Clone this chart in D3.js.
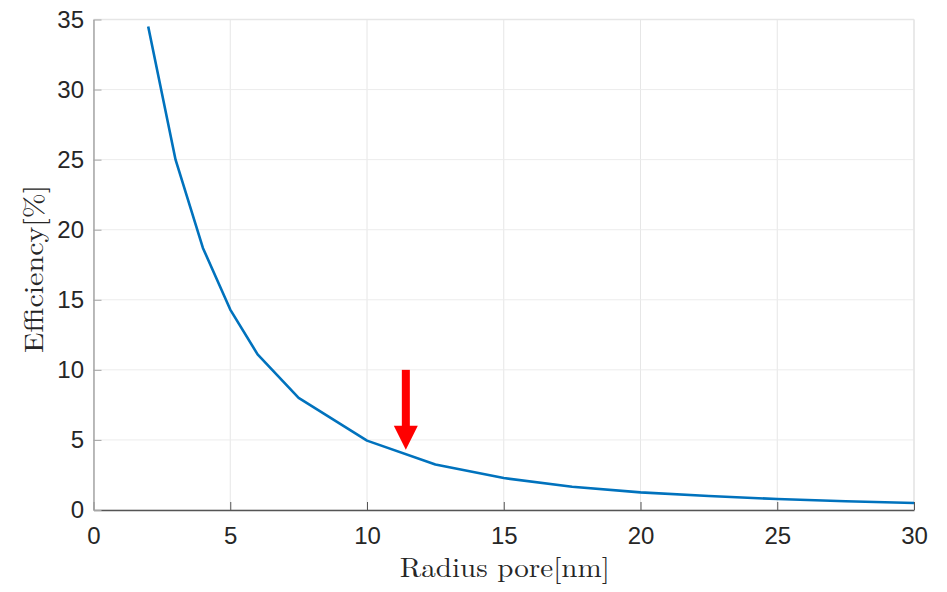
<!DOCTYPE html>
<html>
<head>
<meta charset="utf-8">
<script src="https://cdn.jsdelivr.net/npm/d3@7"></script>
<style>
  html, body { margin: 0; padding: 0; background: #fff; }
  svg { display: block; }
</style>
</head>
<body>
<svg id="chart" width="947" height="592"></svg>
<script>
// Pore radius (nm) and corresponding efficiency (%)
const radius = [2, 3, 4, 5, 6, 7.5, 10, 12.5, 15, 17.5, 20, 22.5, 25, 27.5, 30];
const efficiency = [34.5, 25.0, 18.7, 14.3, 11.1, 8.0, 4.95, 3.25, 2.28, 1.66, 1.26, 1.0, 0.78, 0.62, 0.5];

// Tick values
const xTicks = [0, 5, 10, 15, 20, 25, 30];
const yTicks = [0, 5, 10, 15, 20, 25, 30, 35];

// Marker arrow: x position, tail and tip efficiency
const arrowX = [11.42];
const arrowY = [10, 4.3];

const svg = d3.select("#chart");
const W = 947, H = 592;
const margin = { left: 93.5, top: 19.5, right: 33, bottom: 82 };
const iw = W - margin.left - margin.right;
const ih = H - margin.top - margin.bottom;

const x = d3.scaleLinear().domain([0, 30]).range([margin.left, margin.left + iw]);
const y = d3.scaleLinear().domain([0, 35]).range([margin.top + ih, margin.top]);

svg.append("rect").attr("width", W).attr("height", H).attr("fill", "#fff");

// Grid
const grid = svg.append("g");
grid.selectAll("line.gx").data(xTicks).join("line")
  .attr("x1", d => x(d)).attr("x2", d => x(d))
  .attr("y1", y(0)).attr("y2", y(35))
  .attr("stroke", "#e6e6e6").attr("stroke-width", 1);
grid.selectAll("line.gy").data(yTicks).join("line")
  .attr("x1", x(0)).attr("x2", x(30))
  .attr("y1", d => y(d)).attr("y2", d => y(d))
  .attr("stroke", "#ececec").attr("stroke-width", 1);

// Box: light top and right edges
svg.append("line").attr("x1", x(0)).attr("x2", x(30)).attr("y1", y(35)).attr("y2", y(35))
  .attr("stroke", "#e6e6e6").attr("stroke-width", 1.5);
svg.append("line").attr("x1", x(30)).attr("x2", x(30)).attr("y1", y(0)).attr("y2", y(35))
  .attr("stroke", "#e6e6e6").attr("stroke-width", 1.5);

// Axes with inward ticks
const xAxis = d3.axisBottom(x).tickValues(xTicks).tickSizeInner(-8).tickSizeOuter(0).tickPadding(16.5);
const yAxis = d3.axisLeft(y).tickValues(yTicks).tickSizeInner(-8).tickSizeOuter(0).tickPadding(9.5);

const gx = svg.append("g").attr("transform", `translate(0,${y(0)})`).call(xAxis);
gx.select(".domain").attr("stroke", "#555").attr("stroke-width", 1.5);
gx.selectAll(".tick line").attr("stroke", "#555");
gx.selectAll(".tick text")
  .attr("font-family", "'Liberation Sans', Arial, sans-serif")
  .attr("font-size", 24).attr("fill", "#262626");

const gy = svg.append("g").attr("transform", `translate(${x(0)},0)`).call(yAxis);
gy.select(".domain").attr("stroke", "#a6a6a6").attr("stroke-width", 1.5);
gy.selectAll(".tick line").attr("stroke", "#a6a6a6");
gy.selectAll(".tick text")
  .attr("font-family", "'Liberation Sans', Arial, sans-serif")
  .attr("font-size", 24).attr("fill", "#262626");

// Curve
const pts = radius.map((r, i) => [r, efficiency[i]]);
svg.append("path")
  .datum(pts)
  .attr("fill", "none")
  .attr("stroke", "#0072BD")
  .attr("stroke-width", 2.6)
  .attr("stroke-linejoin", "round")
  .attr("d", d3.line().x(d => x(d[0])).y(d => y(d[1])));

// Red arrow
const ax = x(arrowX[0]);
const yTail = y(arrowY[0]);
const yTip = y(arrowY[1]);
const headLen = 24, headHalf = 12, shaftHalf = 4;
svg.append("rect")
  .attr("x", ax - shaftHalf).attr("y", yTail)
  .attr("width", shaftHalf * 2).attr("height", (yTip - headLen) - yTail + 1)
  .attr("fill", "#ff0000");
svg.append("path")
  .attr("d", `M${ax - headHalf},${yTip - headLen}L${ax + headHalf},${yTip - headLen}L${ax},${yTip}Z`)
  .attr("fill", "#ff0000");

// Axis labels
svg.append("text")
  .attr("x", (x(0) + x(30)) / 2 + 1).attr("y", 577)
  .attr("text-anchor", "middle")
  .attr("font-family", "'Latin Modern Roman', 'CMU Serif', 'Liberation Serif', 'DejaVu Serif', serif")
  .attr("font-size", 27).attr("fill", "#262626")
  .attr("textLength", 210).attr("lengthAdjust", "spacingAndGlyphs")
  .text("Radius pore[nm]");

svg.append("text")
  .attr("transform", `translate(43,${269}) rotate(-90)`)
  .attr("text-anchor", "middle")
  .attr("font-family", "'Latin Modern Roman', 'CMU Serif', 'Liberation Serif', 'DejaVu Serif', serif")
  .attr("font-size", 27).attr("fill", "#262626")
  .attr("textLength", 168).attr("lengthAdjust", "spacingAndGlyphs")
  .text("Efficiency[%]");
</script>
</body>
</html>
